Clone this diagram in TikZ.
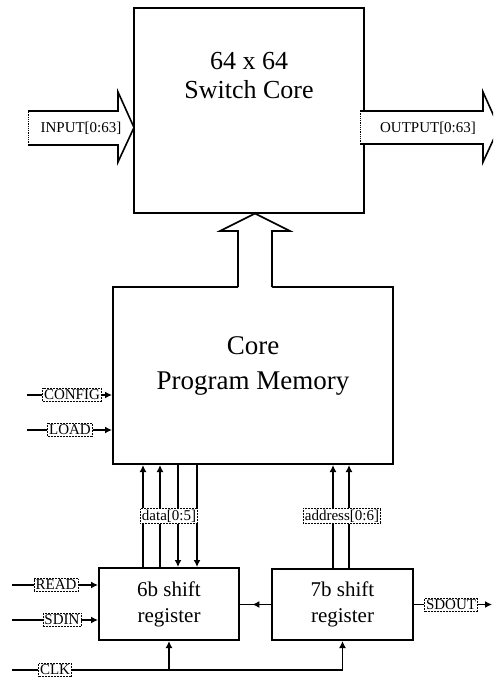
\documentclass[tikz,border=0pt]{standalone}
\usepackage{fontspec}
\setmainfont{Liberation Serif}
\usetikzlibrary{arrows.meta,decorations.markings,calc}
\begin{document}
\begin{tikzpicture}[x=1pt,y=-1pt,
  blk/.style={draw,line width=2pt,fill=white,rectangle,inner sep=0pt},
  sig/.style={line width=1.4pt},
  tipend/.style={-{Latex[length=7pt,width=7pt]}},
  bigarrow/.style={line width=1.6pt},
  lbl/.style={fill=white,draw,densely dotted,line width=0.5pt,inner sep=1.5pt,font=\fontsize{15}{17}\selectfont},
  arrtxt/.style={inner sep=0pt,font=\fontsize{15}{17}\selectfont},
  bigtxt/.style={align=center,inner sep=0pt},
  midarrow/.style={postaction={decorate},decoration={markings,mark=at position 0.6 with {\arrow{Latex[length=7pt,width=7pt]}}}}
]
\useasboundingbox (0,0) rectangle (493,680);
\clip (0,0) rectangle (493,680);

% main blocks
\node[blk,minimum width=230pt,minimum height=205pt] (core) at (249,110.5) {};
\node[bigtxt,font=\fontsize{26}{29}\selectfont] (coretxt) at (249,76) {64 x 64\\Switch Core};
\node[blk,minimum width=280pt,minimum height=177pt] (mem) at (253,375.5) {};
\node[bigtxt,font=\fontsize{27}{35}\selectfont] (memtxt) at (253,366) {Core\\Program Memory};
\node[blk,minimum width=140pt,minimum height=72pt,align=center,font=\fontsize{21}{26}\selectfont] (b6) at (169,604) {6b shift\\register};
\node[blk,minimum width=141pt,minimum height=71pt,align=center,font=\fontsize{21}{26}\selectfont] (b7) at (342.5,604.5) {7b shift\\register};

% INPUT block arrow
\path[fill=white] (28,111) -- (118,111) -- (118,92) -- (134,127.5) -- (118,162) -- (118,145) -- (28,145) -- cycle;
\draw[bigarrow] (28,111) -- (118,111) -- (118,92) -- (134,127.5) -- (118,162) -- (118,145) -- (28,145);
\draw[densely dotted,line width=0.8pt] (28,145) -- (28,111);
\node[arrtxt] (inp) at (81,128) {INPUT[0:63]};

% OUTPUT block arrow
\path[fill=white] (360,111) -- (483,111) -- (483,92) -- (499,127.5) -- (483,162) -- (483,144) -- (360,144) -- cycle;
\draw[bigarrow] (360,111) -- (483,111) -- (483,92) -- (499,127.5) -- (483,162) -- (483,144) -- (360,144);
\draw[densely dotted,line width=0.8pt] (360,144) -- (360,111);
\node[arrtxt] (outp) at (428,128) {OUTPUT[0:63]};

% memory -> core block arrow
\path[fill=white] (238,291) -- (238,231) -- (220,231) -- (255,213) -- (290,231) -- (272,231) -- (272,291) -- cycle;
\draw[bigarrow] (238,287) -- (238,231) -- (220,231) -- (255,213.5) -- (290,231) -- (272,231) -- (272,287);

% CONFIG / LOAD
\coordinate (cfgS) at (27,395);
\coordinate (ldS) at (27,430);
\node[lbl] (cfg) at (72,395) {CONFIG};
\node[lbl] (ld) at (70,430) {LOAD};
\draw[sig] (cfgS) -- (cfg.west);
\draw[sig,tipend] (cfg.east) -- (mem.west |- cfg);
\draw[sig] (ldS) -- (ld.west);
\draw[sig,tipend] (ld.east) -- (mem.west |- ld);

% data lines
\coordinate (d1) at (143,0);
\coordinate (d2) at (160,0);
\coordinate (d3) at (178,0);
\coordinate (d4) at (197,0);
\draw[sig,tipend] (b6.north -| d1) -- (mem.south -| d1);
\draw[sig,tipend] (b6.north -| d2) -- (mem.south -| d2);
\draw[sig,tipend] (mem.south -| d3) -- (b6.north -| d3);
\draw[sig,tipend] (mem.south -| d4) -- (b6.north -| d4);
\node[lbl] (data) at (169,516) {data[0:5]};

% address lines
\coordinate (a1) at (333,0);
\coordinate (a2) at (349,0);
\draw[sig,tipend] (b7.north -| a1) -- (mem.south -| a1);
\draw[sig,tipend] (b7.north -| a2) -- (mem.south -| a2);
\node[lbl] (addr) at (342,516) {address[0:6]};

% shift chain
\draw[sig,midarrow] (b7.west) -- (b6.east |- b7.west);
\node[lbl] (sdout) at (451,604.5) {SDOUT};
\coordinate (sdoutE) at (492,604.5);
\draw[sig] (b7.east) -- (sdout.west);
\draw[sig,tipend] (sdout.east) -- (sdoutE);

% READ / SDIN
\coordinate (rdS) at (12,585);
\coordinate (sdS) at (12,620);
\node[lbl] (rd) at (56,585) {READ};
\node[lbl] (sdin) at (62,620) {SDIN};
\draw[sig] (rdS) -- (rd.west);
\draw[sig,tipend] (rd.east) -- (b6.west |- rd);
\draw[sig] (sdS) -- (sdin.west);
\draw[sig,tipend] (sdin.east) -- (b6.west |- sdin);

% CLK
\coordinate (clkS) at (12,670);
\node[lbl] (clk) at (55,670) {CLK};
\draw[sig] (clkS) -- (clk.west);
\draw[sig,tipend] (clk.east) -| (b7.south);
\draw[sig,tipend] (b6.south |- clk) -- (b6.south);
\end{tikzpicture}
\end{document}
